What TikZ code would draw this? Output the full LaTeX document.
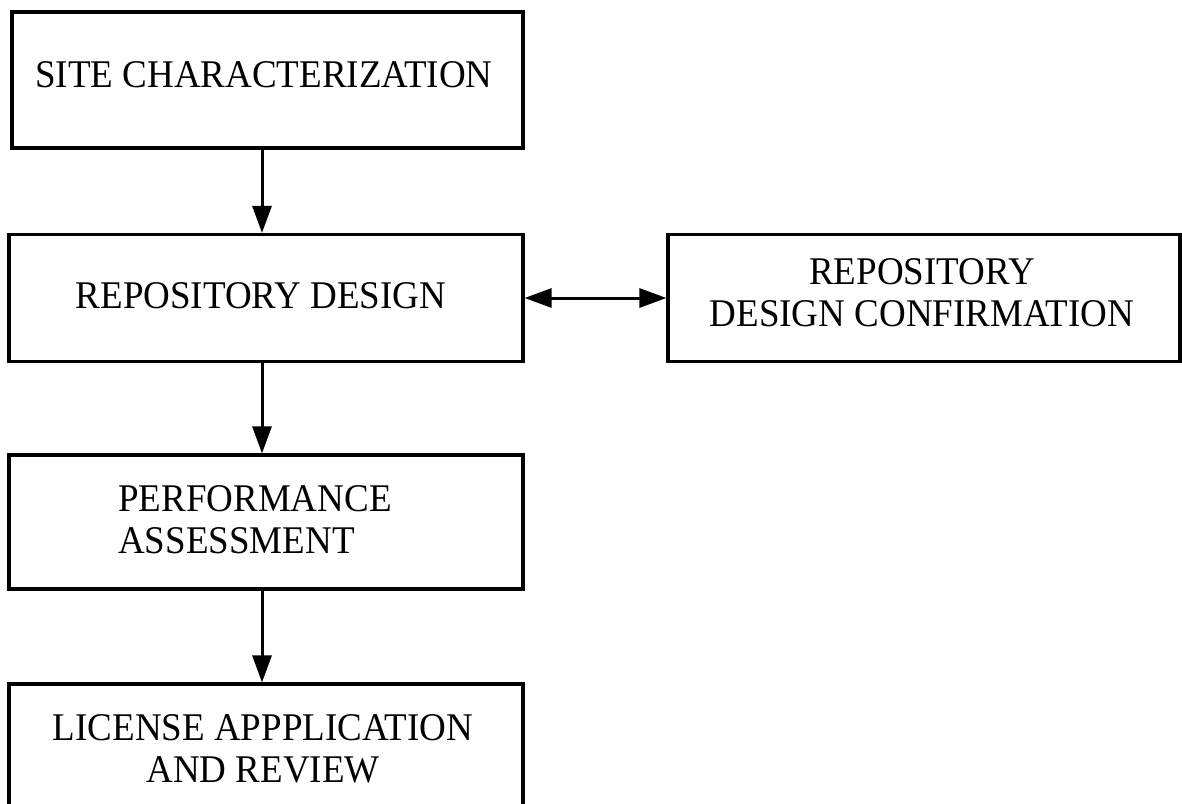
\documentclass[tikz,border=0pt]{standalone}
\usepackage{fontspec}
\setmainfont{Liberation Serif}
\usepackage{graphicx}
\usetikzlibrary{arrows.meta}
\newcommand\tallt[1]{\scalebox{1}[1.06]{#1}}
\begin{document}
\begin{tikzpicture}[x=1pt,y=-1pt,
  boxstyle/.style={draw, line width=3.2pt, rectangle, inner sep=0pt, minimum width=514pt},
  lbl/.style={font=\fontsize{37}{42}\selectfont, inner sep=0pt},
  conn/.style={line width=3pt, -{Triangle[length=27pt,width=19pt]}},
  dconn/.style={line width=3pt, {Triangle[length=27pt,width=19pt]}-{Triangle[length=27pt,width=19pt]}}
]
\clip (0,0) rectangle (1182,803);
\fill[white] (0,0) rectangle (1182,803);
\node[boxstyle, minimum width=511pt, minimum height=136pt] (b1) at (267.5,80) {};
\node[boxstyle, minimum height=127pt] (b2) at (266,298) {};
\node[boxstyle, minimum width=512pt, minimum height=127pt] (b3) at (924,298) {};
\node[boxstyle, minimum height=134pt] (b4) at (266,522) {};
\node[boxstyle, minimum height=130pt] (b5) at (266,749) {};
\coordinate (ax) at (262,0);
\node[lbl] (t1) at (264,75) {\tallt{SITE CHARACTERIZATION}};
\node[lbl] (t2) at (261,296) {\tallt{REPOSITORY DESIGN}};
\node[lbl, align=center] (t3) at (922,293) {\tallt{REPOSITORY}\\\tallt{DESIGN CONFIRMATION}};
\node[lbl, align=left, anchor=west] (t4) at (118,520) {\tallt{PERFORMANCE}\\\tallt{ASSESSMENT}};
\node[lbl, align=center] (t5) at (263,749) {\tallt{LICENSE APPPLICATION}\\\tallt{AND REVIEW}};
\draw[conn] (b1.south -| ax) -- (b2.north -| ax);
\draw[conn] (b2.south -| ax) -- (b4.north -| ax);
\draw[conn] (b4.south -| ax) -- (b5.north -| ax);
\draw[dconn] (b2.east) -- (b3.west);
\end{tikzpicture}
\end{document}
